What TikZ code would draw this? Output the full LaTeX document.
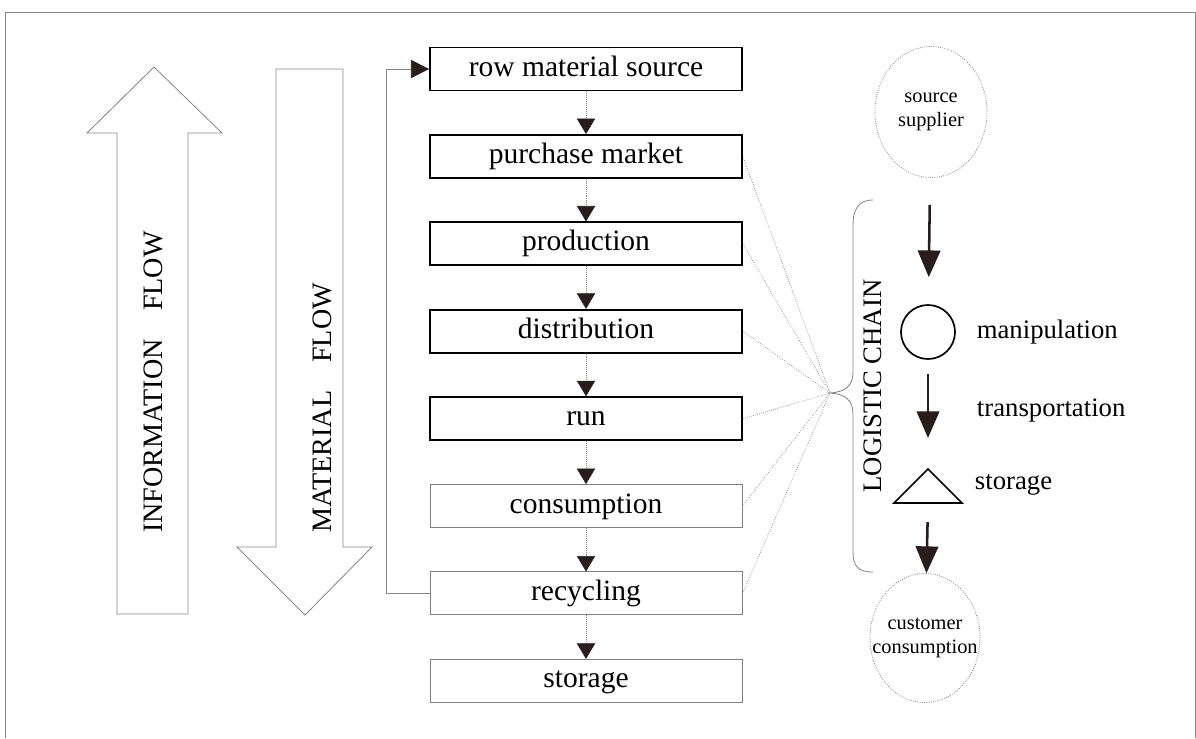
\documentclass[tikz,border=0pt]{standalone}
\usepackage{fontspec}
\setmainfont{Liberation Serif}
\usetikzlibrary{positioning, arrows.meta, shapes.geometric}
\definecolor{headdark}{RGB}{40,28,28}
\definecolor{linegray}{RGB}{135,135,135}
\newcommand{\boxfont}{\fontsize{21}{23}\selectfont}
\newcommand{\sidefont}{\fontsize{19}{21}\selectfont}
\newcommand{\flowfont}{\fontsize{20}{22}\selectfont}
\newcommand{\chainfont}{\fontsize{19}{21}\selectfont}
\newcommand{\smallfont}{\fontsize{14.5}{17}\selectfont}

\begin{document}
\begin{tikzpicture}[x=0.025cm, y=-0.025cm,
  box/.style={rectangle, minimum width=7.8cm, minimum height=1.075cm, inner sep=0pt, text height=14pt, text depth=4pt, font=\boxfont},
  flowarrow/.style={draw=linegray, densely dotted, -{Triangle[width=13pt, length=11pt, color=headdark]}},
  hubline/.style={draw=linegray, densely dotted, line width=0.5pt},
  bigarrow/.style={draw=headdark, line width=1.8pt, -{Triangle[width=16pt, length=19pt]}},
  thinline/.style={draw=linegray, line width=0.6pt},
  bubble/.style={ellipse, draw=linegray, densely dotted, line width=0.6pt, align=center, font=\smallfont, inner sep=0pt}
]
  \useasboundingbox (0,0) rectangle (1196,738);

  % Frame
  \draw[thinline] (5,738) -- (5,12) -- (1195,12) -- (1195,738);

  % Stages
  \foreach \txt/\col/\lw [count=\i] in {row material source/black/1.2pt, purchase market/black/1.2pt, production/black/1.2pt, distribution/black/1.2pt, run/black/1.2pt, consumption/gray/0.6pt, recycling/gray/0.6pt, storage/gray/0.6pt}
    \node[box, draw=\col, line width=\lw] (box-\i) at (586,{69+87.4*(\i-1)}) {\txt};

  % Arrows between stages
  \foreach \i [evaluate=\i as \j using int(\i+1)] in {1,...,7}
    \draw[flowarrow] (box-\i) -- (box-\j);

  % Back to the source
  \draw[thinline, -{Triangle[width=13pt, length=13pt, color=headdark]}] (box-7.west) -- ++(-43,0) |- (box-1.west);

  % Information and material flow
  \draw[thinline] (117,614) -- (117,133) -- (87,133) -- (154,67) -- (222,133) -- (188,133) -- (188,614) -- cycle;
  \draw[thinline] (276,69) -- (343,69) -- (343,547) -- (372,547) -- (305,615) -- (237,547) -- (276,547) -- cycle;
  \node[rotate=90, font=\flowfont] (info) at (153,382) {INFORMATION\quad FLOW};
  \node[rotate=90, font=\flowfont] (material) at (322,408) {MATERIAL\quad FLOW};

  % Logistic chain
  \coordinate (hub) at (830,393);
  \foreach \i in {2,...,7}
    \draw[hubline] (box-\i.east) -- (hub);
  \draw[thinline] (873,200) .. controls (858,200) and (853,210) .. (853,225) -- (853,372) .. controls (853,386) and (845,392) .. (hub) .. controls (845,394) and (853,400) .. (853,414) -- (853,552) .. controls (853,566) and (858,572) .. (873,572);
  \node[rotate=90, font=\chainfont] (chain) at (873,386) {LOGISTIC CHAIN};

  % Right column
  \node[bubble, minimum width=2.8cm, minimum height=3.275cm] (supplier) at (931,112) {source\\supplier};
  \node[circle, draw=black, line width=1.2pt, minimum size=1.35cm] (manip) at (928,332) {};
  \draw[black, line width=1.2pt] (894,503) -- (928,469) -- (962,503) -- cycle;
  \coordinate (shelf-top) at (928,469);
  \coordinate (shelf-base) at (928,503);
  \node[bubble, inner xsep=-0.4cm, minimum width=2.75cm, minimum height=3.225cm] (customer) at (925,638) {customer\\consumption};

  \draw[bigarrow, shorten <=0.675cm, shorten >=0.675cm] (supplier) -- (manip);
  \draw[bigarrow, shorten <=0.35cm, shorten >=0.775cm] (manip) -- (shelf-top);
  \draw[bigarrow, shorten <=0.475cm] (shelf-base) -- (customer);

  % Labels
  \node[font=\sidefont, right=0.4cm of manip] (manip-label) {manipulation};
  \node[anchor=west, font=\sidefont] (transport-label) at (972,410) {transportation};
  \node[anchor=west, font=\sidefont] (storage-label) at (970,485) {storage};
\end{tikzpicture}
\end{document}
